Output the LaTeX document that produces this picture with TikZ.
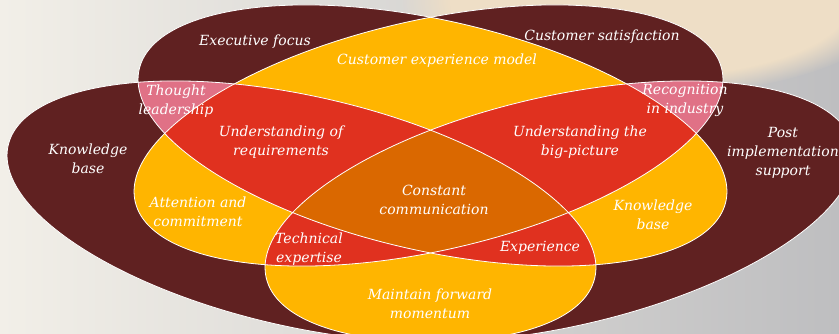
\documentclass[tikz,border=0pt]{standalone}
\usepackage{fontspec}
\setmainfont{DejaVu Serif}
\usetikzlibrary{fadings}
\definecolor{setbrown}{RGB}{96,33,33}
\definecolor{setyellow}{RGB}{255,181,0}
\definecolor{setred}{RGB}{224,49,31}
\definecolor{setorange}{RGB}{218,104,0}
\definecolor{setpink}{RGB}{224,113,134}
\definecolor{bgleft}{RGB}{242,239,232}
\definecolor{bgright}{RGB}{190,190,192}
\definecolor{bgwarm}{RGB}{238,222,198}
\tikzset{
  oval/.style={x radius=300.7pt, y radius=115.4pt},
  rim/.style={draw=white, line width=0.8pt},
  lbl/.style={text=white, font=\itshape\fontsize{14}{19}\selectfont, align=center, inner sep=0pt}
}
\begin{document}
\begin{tikzpicture}[x=1pt,y=1pt]
		\useasboundingbox (0,0) rectangle (839,334);
		\clip (0,0) rectangle (839,334);
		\shade [left color=bgleft, right color=bgright] (0,0) rectangle (839,334);
		\fill [bgwarm, path fading=circle with fuzzy edge 20 percent] (650,334) ellipse (250 and 95);
		% centres of the four sets
		\coordinate (TL) at (432.5,198.5);
		\coordinate (TR) at (428.5,198.5);
		\coordinate (L) at (301.5,122.5);
		\coordinate (R) at (559.5,122.5);
		\def\setTL{(TL) circle [oval, rotate=-12.7]}
		\def\setTR{(TR) circle [oval, rotate=12.7]}
		\def\setL{(L) circle [oval, rotate=-12.7]}
		\def\setR{(R) circle [oval, rotate=12.7]}
		% one set
		\fill [setbrown] \setL;
		\fill [setbrown] \setR;
		\fill [setbrown] \setTL;
		\fill [setbrown] \setTR;
		% two sets
		\begin{scope} \clip \setTL; \fill [setyellow] \setTR; \end{scope}
		\begin{scope} \clip \setTL; \fill [setpink] \setL; \end{scope}
		\begin{scope} \clip \setTR; \fill [setpink] \setR; \end{scope}
		\begin{scope} \clip \setTR; \fill [setyellow] \setL; \end{scope}
		\begin{scope} \clip \setTL; \fill [setyellow] \setR; \end{scope}
		\begin{scope} \clip \setL; \fill [setyellow] \setR; \end{scope}
		% three sets
		\begin{scope} \clip \setTL; \clip \setTR; \fill [setred] \setL; \end{scope}
		\begin{scope} \clip \setTL; \clip \setTR; \fill [setred] \setR; \end{scope}
		\begin{scope} \clip \setL; \clip \setR; \fill [setred] \setTR; \end{scope}
		\begin{scope} \clip \setL; \clip \setR; \fill [setred] \setTL; \end{scope}
		% four sets
		\begin{scope} \clip \setL; \clip \setR; \clip \setTL; \fill [setorange] \setTR; \end{scope}
		\path [rim] \setL;
		\path [rim] \setR;
		\path [rim] \setTL;
		\path [rim] \setTR;
		% labels
		\node [lbl] (exec) at (255,292) {Executive focus};
		\node [lbl] (sat) at (602,297) {Customer satisfaction};
		\node [lbl] (model) at (437,273) {Customer experience model};
		\node [lbl] (lead) at (176,232.5) {Thought\\leadership};
		\node [lbl] (recog) at (685,234) {Recognition\\in industry};
		\node [lbl] (kbase) at (88,175.5) {Knowledge\\base};
		\node [lbl] (reqs) at (281,191.5) {Understanding of\\requirements};
		\node [lbl] (bigpic) at (580,192) {Understanding the\\big-picture};
		\node [lbl] (post) at (783,181) {Post\\implementation\\support};
		\node [lbl] (comm) at (434,134) {Constant\\communication};
		\node [lbl] (attn) at (198,122.5) {Attention and\\commitment};
		\node [lbl] (kbase2) at (653,119.5) {Knowledge\\base};
		\node [lbl] (tech) at (309,85) {Technical\\expertise};
		\node [lbl] (exper) at (540,86) {Experience};
		\node [lbl] (fwd) at (430,30.5) {Maintain forward\\momentum};
	\end{tikzpicture}
\end{document}
